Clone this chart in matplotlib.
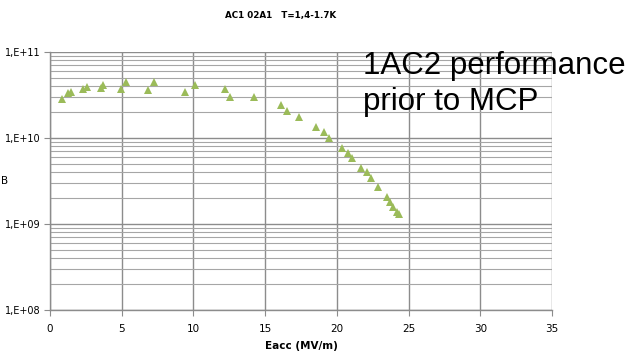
import matplotlib
matplotlib.use('Agg')
import matplotlib.pyplot as plt
from matplotlib.ticker import LogLocator, NullFormatter, FixedLocator

# Données (Eacc en MV/m, Q0)
eacc = [0.86, 1.28, 1.44, 2.33, 2.6, 3.56, 3.72, 4.97, 5.28, 6.83, 7.28,
        9.41, 10.11, 12.23, 12.55, 14.23, 16.11, 16.55, 17.36, 18.53, 19.13,
        19.46, 20.34, 20.76, 21.04, 21.69, 22.08, 22.36, 22.9, 23.48, 23.71,
        23.94, 24.17, 24.33]
log_q0 = [10.45, 10.52, 10.53, 10.57, 10.59, 10.585, 10.62, 10.57, 10.65,
          10.56, 10.65, 10.53, 10.62, 10.57, 10.48, 10.48, 10.39, 10.32,
          10.24, 10.13, 10.07, 10.0, 9.88, 9.83, 9.77, 9.65, 9.61, 9.54,
          9.43, 9.32, 9.26, 9.20, 9.14, 9.12]
q0 = [10 ** v for v in log_q0]

x_ticks = [0, 5, 10, 15, 20, 25, 30, 35]
y_ticks = [1e8, 1e9, 1e10, 1e11]
y_labels = ['1,E+08', '1,E+09', '1,E+10', '1,E+11']

fig = plt.figure(figsize=(6.33, 3.54), dpi=100)
ax = fig.add_axes([0.079, 0.124, 0.793, 0.729])

ax.plot(eacc, q0, linestyle='none', marker='^', markersize=6,
        color='#9BBB59', markeredgewidth=0, zorder=3)

ax.set_yscale('log')
ax.set_xlim(0, 35)
ax.set_ylim(1e8, 1e11)
ax.xaxis.set_major_locator(FixedLocator(x_ticks))
ax.set_xticklabels([str(t) for t in x_ticks], fontsize=7.5)
ax.yaxis.set_major_locator(FixedLocator(y_ticks))
ax.set_yticklabels(y_labels, fontsize=7)
ax.yaxis.set_minor_locator(LogLocator(base=10, subs=range(2, 10)))
ax.yaxis.set_minor_formatter(NullFormatter())

ax.grid(True, which='major', axis='both', color='#8c8c8c', linewidth=1.0)
ax.grid(True, which='minor', axis='y', color='#a6a6a6', linewidth=0.8)
ax.set_axisbelow(True)

for s in ['top', 'right']:
    ax.spines[s].set_visible(False)
for s in ['left', 'bottom']:
    ax.spines[s].set_color('#8c8c8c')
    ax.spines[s].set_linewidth(1.0)
ax.tick_params(axis='both', which='major', direction='out', length=4,
               color='#8c8c8c')
ax.tick_params(axis='y', which='minor', length=0)
ax.tick_params(axis='y', pad=3)
ax.tick_params(axis='x', pad=6)

ax.set_xlabel('Eacc (MV/m)', fontsize=7.5, fontweight='bold', labelpad=5)
fig.text(0.444, 0.955, 'AC1 02A1   T=1,4-1.7K', fontsize=6.3,
         fontweight='bold', ha='center', va='center')
fig.text(0.002, 0.49, 'B', fontsize=7.5, ha='left', va='center')

fig.text(0.573, 0.689, '1AC2 performance\nprior to MCP', fontsize=22.5,
         family='Liberation Sans', ha='left', va='baseline',
         linespacing=1.27)

fig.savefig('out.png', dpi=100)
